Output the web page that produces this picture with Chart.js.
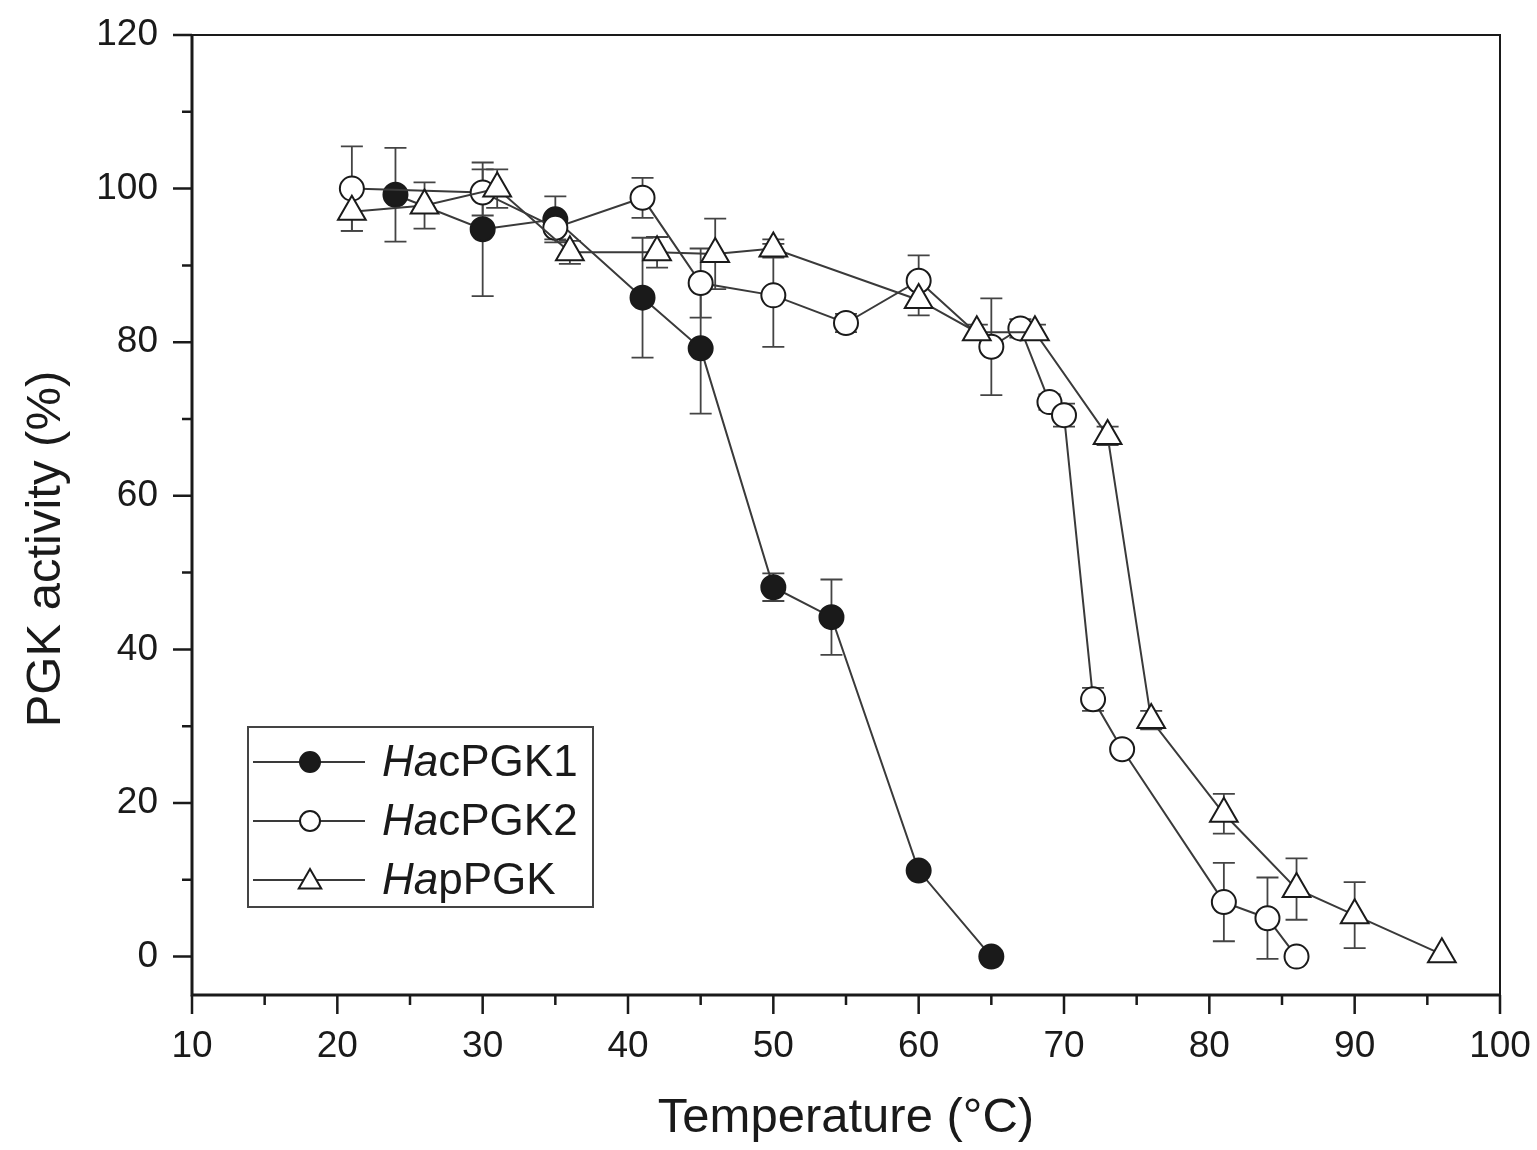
<!DOCTYPE html>
<html>
<head>
<meta charset="utf-8">
<script src="https://cdn.jsdelivr.net/npm/chart.js@4"></script>
<style>
  html, body { margin: 0; padding: 0; background: #fff; }
  #wrap { width: 1537px; height: 1150px; position: relative; }
</style>
</head>
<body>
<div id="wrap"><canvas id="c"></canvas></div>
<script>
// ---- data ----
const tempPGK1 = [24, 30, 35, 41, 45, 50, 54, 60, 65];
const actPGK1  = [99.2, 94.7, 96.0, 85.8, 79.2, 48.1, 44.2, 11.2, 0];
const errPGK1  = [6.1, 8.7, 3.0, 7.8, 8.5, 1.8, 4.9, 0, 0];

const tempPGK2 = [21, 30, 35, 41, 45, 50, 55, 60, 65, 67, 69, 70, 72, 74, 81, 84, 86];
const actPGK2  = [100, 99.5, 94.9, 98.8, 87.7, 86.1, 82.5, 88.0, 79.4, 81.8, 72.2, 70.5, 33.5, 27.0, 7.1, 5.0, 0];
const errPGK2  = [5.5, 3.0, 1.5, 2.6, 4.5, 6.7, 1.2, 3.3, 6.3, 1.2, 1.0, 1.5, 1.5, 0.8, 5.1, 5.3, 0];

const tempPPGK = [21, 26, 31, 36, 42, 46, 50, 60, 64, 68, 73, 76, 81, 86, 90, 96];
const actPPGK  = [97.0, 97.8, 100, 91.7, 91.7, 91.5, 92.2, 85.5, 81.3, 81.3, 67.8, 30.8, 18.6, 8.8, 5.4, 0.3];
const errPPGK  = [2.5, 3.0, 2.5, 1.5, 2.0, 4.6, 1.2, 2.0, 1.0, 1.0, 1.2, 1.2, 2.6, 4.0, 4.3, 0];

const xTicks = [10, 20, 30, 40, 50, 60, 70, 80, 90, 100];
const xMinorTicks = [15, 25, 35, 45, 55, 65, 75, 85, 95];
const yTicks = [0, 20, 40, 60, 80, 100, 120];
const yMinorTicks = [10, 30, 50, 70, 90, 110];

const seriesNames = [["Ha", "cPGK1"], ["Ha", "cPGK2"], ["Ha", "pPGK"]];
const xTitle = "Temperature (°C)";
const yTitle = "PGK activity (%)";

const FONT = "'Liberation Sans', Arial, sans-serif";
const INK = "#1a1a1a";
const LINE = "#3a3a3a";

function pts(xs, ys) { return xs.map((x, i) => ({ x: x, y: ys[i] })); }
const errs = [errPGK1, errPGK2, errPPGK];

const errorBars = {
  id: 'errorBars',
  beforeDatasetsDraw(chart) {
    const ctx = chart.ctx, xs = chart.scales.x, ys = chart.scales.y;
    ctx.save();
    ctx.strokeStyle = "#444";
    ctx.lineWidth = 1.8;
    chart.data.datasets.forEach((ds, di) => {
      ds.data.forEach((p, i) => {
        const e = errs[di][i];
        if (!e) return;
        const px = xs.getPixelForValue(p.x);
        const y1 = ys.getPixelForValue(p.y + e);
        const y2 = ys.getPixelForValue(p.y - e);
        ctx.beginPath();
        ctx.moveTo(px, y1); ctx.lineTo(px, y2);
        ctx.moveTo(px - 11, y1); ctx.lineTo(px + 11, y1);
        ctx.moveTo(px - 11, y2); ctx.lineTo(px + 11, y2);
        ctx.stroke();
      });
    });
    ctx.restore();
  }
};

const frame = {
  id: 'frame',
  afterDatasetsDraw(chart) {
    const ctx = chart.ctx, a = chart.chartArea, xs = chart.scales.x, ys = chart.scales.y;
    ctx.save();
    ctx.strokeStyle = INK;
    ctx.lineWidth = 2;
    ctx.beginPath();
    ctx.moveTo(a.left, a.top); ctx.lineTo(a.right, a.top); ctx.lineTo(a.right, a.bottom);
    ctx.stroke();
    ctx.lineWidth = 3;
    ctx.beginPath();
    ctx.moveTo(a.left, a.top - 1); ctx.lineTo(a.left, a.bottom);
    ctx.lineTo(a.right + 1, a.bottom);
    ctx.stroke();
    ctx.lineWidth = 2.5;
    ctx.beginPath();
    yTicks.forEach(v => { const y = ys.getPixelForValue(v); ctx.moveTo(a.left, y); ctx.lineTo(a.left - 19, y); });
    yMinorTicks.forEach(v => { const y = ys.getPixelForValue(v); ctx.moveTo(a.left, y); ctx.lineTo(a.left - 10, y); });
    xTicks.forEach(v => { const x = xs.getPixelForValue(v); ctx.moveTo(x, a.bottom); ctx.lineTo(x, a.bottom + 19); });
    xMinorTicks.forEach(v => { const x = xs.getPixelForValue(v); ctx.moveTo(x, a.bottom); ctx.lineTo(x, a.bottom + 10); });
    ctx.stroke();
    ctx.restore();
  },
  afterDraw(chart) {
    const ctx = chart.ctx, a = chart.chartArea;
    const bx = a.left + 56, by = a.bottom - 268, bw = 345, bh = 180;
    ctx.save();
    ctx.fillStyle = "#fff";
    ctx.fillRect(bx, by, bw, bh);
    ctx.strokeStyle = "#444";
    ctx.lineWidth = 2;
    ctx.strokeRect(bx, by, bw, bh);
    const rowY = [by + 35, by + 94, by + 153];
    const styles = ['circle', 'circle', 'triangle'];
    const fills = [INK, '#fff', '#fff'];
    const radii = [10, 10, 13];
    for (let i = 0; i < 3; i++) {
      const y = rowY[i];
      ctx.strokeStyle = LINE; ctx.lineWidth = 2;
      ctx.beginPath(); ctx.moveTo(bx + 5, y); ctx.lineTo(bx + 117, y); ctx.stroke();
      ctx.fillStyle = fills[i]; ctx.strokeStyle = INK; ctx.lineWidth = 2;
      Chart.helpers.drawPoint(ctx, { pointStyle: styles[i], radius: radii[i], borderWidth: 2, rotation: 0 }, bx + 62, y + (i === 2 ? 2 : 0));
      ctx.fillStyle = INK;
      ctx.textBaseline = 'middle';
      ctx.textAlign = 'left';
      let tx = bx + 134;
      ctx.font = "italic 44px " + FONT;
      ctx.fillText(seriesNames[i][0], tx, y + 2);
      tx += ctx.measureText(seriesNames[i][0]).width;
      ctx.font = "44px " + FONT;
      ctx.fillText(seriesNames[i][1], tx, y + 2);
    }
    ctx.restore();
  }
};

const common = { showLine: true, borderColor: LINE, borderWidth: 2, pointBorderColor: INK, pointBorderWidth: 2, pointHoverRadius: 11, tension: 0 };

new Chart(document.getElementById('c'), {
  type: 'scatter',
  data: {
    datasets: [
      Object.assign({}, common, { label: 'HacPGK1', data: pts(tempPGK1, actPGK1), pointStyle: 'circle', pointRadius: 12, pointBackgroundColor: INK, order: 3 }),
      Object.assign({}, common, { label: 'HacPGK2', data: pts(tempPGK2, actPGK2), pointStyle: 'circle', pointRadius: 12, pointBackgroundColor: '#fff', order: 2 }),
      Object.assign({}, common, { label: 'HapPGK', data: pts(tempPPGK, actPPGK), pointStyle: 'triangle', pointRadius: 16, pointBackgroundColor: '#fff', order: 1 })
    ]
  },
  options: {
    responsive: true,
    maintainAspectRatio: false,
    animation: false,
    layout: { padding: { left: 0, top: 35, right: 37, bottom: 0 } },
    plugins: { legend: { display: false }, tooltip: { enabled: false } },
    scales: {
      x: {
        type: 'linear', min: 10, max: 100,
        afterBuildTicks: s => { s.ticks = xTicks.map(v => ({ value: v })); },
        afterFit: s => { s.height = 155; s.paddingLeft = 0; s.paddingRight = 0; },
        grid: { display: false, drawTicks: false },
        border: { display: false },
        ticks: { color: INK, font: { family: FONT, size: 37 }, padding: 30, maxRotation: 0, autoSkip: false },
        title: { display: true, text: xTitle, color: INK, font: { family: FONT, size: 49 }, padding: { top: 0, bottom: 2 } }
      },
      y: {
        type: 'linear', min: -5, max: 120,
        afterBuildTicks: s => { s.ticks = yTicks.map(v => ({ value: v })); },
        afterFit: s => { s.width = 192; s.paddingTop = 0; s.paddingBottom = 0; },
        grid: { display: false, drawTicks: false },
        border: { display: false },
        ticks: { color: INK, font: { family: FONT, size: 37 }, padding: 34, autoSkip: false },
        title: { display: true, text: yTitle + "\u00A0\u00A0\u00A0\u00A0\u00A0", color: INK, font: { family: FONT, size: 49 }, padding: { top: 17, bottom: 0 } }
      }
    }
  },
  plugins: [errorBars, frame]
});
</script>
</body>
</html>
